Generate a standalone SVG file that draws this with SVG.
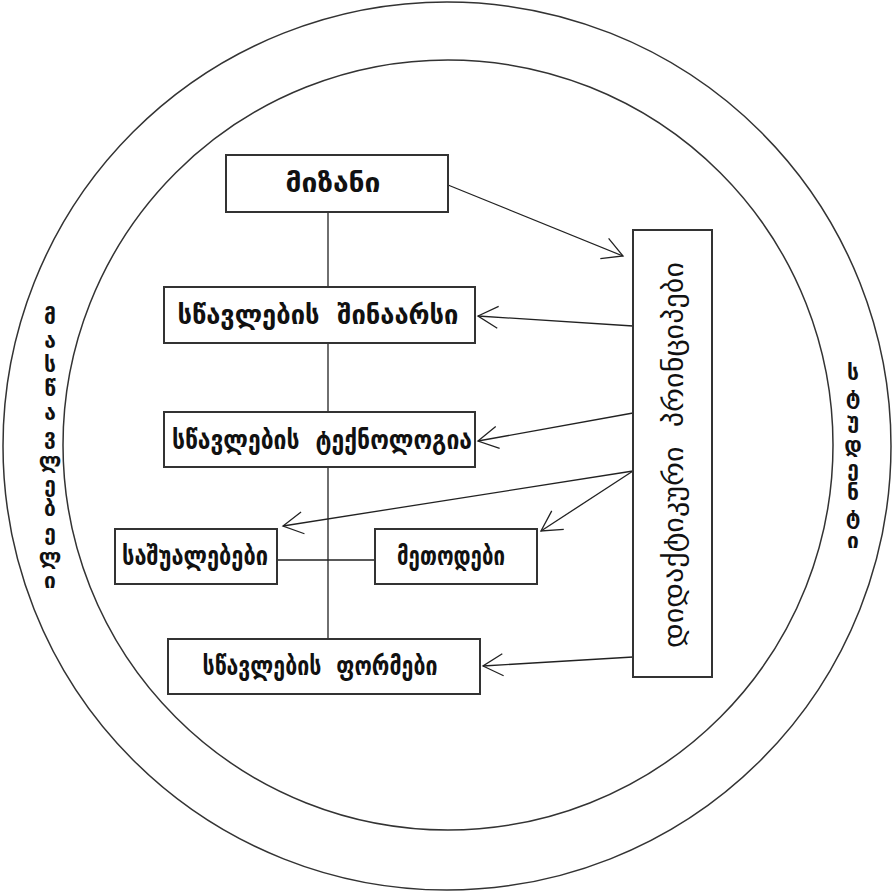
<svg xmlns="http://www.w3.org/2000/svg" width="894" height="893" viewBox="0 0 894 893">
<style>
.box{fill:#fff;stroke:#333;stroke-width:2}
.ring{fill:none;stroke:#333;stroke-width:1.5}
.lbl{font-family:"DejaVu Sans",sans-serif;font-weight:bold;font-size:26px;fill:#111;text-anchor:middle;dominant-baseline:central}
.vlbl{font-family:"DejaVu Sans",sans-serif;font-size:28px;fill:#111;text-anchor:middle;dominant-baseline:central}
.side{font-family:"DejaVu Sans",sans-serif;font-weight:bold;font-size:21px;fill:#111;text-anchor:middle}
.ln{stroke:#222;stroke-width:1.3;fill:none}
</style>
<defs>
<marker id="ah" markerUnits="userSpaceOnUse" viewBox="-1 -12 23 24" markerWidth="23" markerHeight="24" refX="20" refY="0" orient="auto">
<path d="M0,-11 L20,0 L0,11" fill="none" stroke="#222" stroke-width="1.3"/>
</marker>
</defs>
<rect width="894" height="893" fill="#fff"/>
<g id="rings">
<circle class="ring" cx="447" cy="446" r="444"/>
<circle class="ring" cx="448" cy="445" r="385"/>
</g>
<g id="connectors">
<line class="ln" x1="328" y1="212" x2="328" y2="639"/>
<line class="ln" x1="277" y1="560" x2="375" y2="560"/>
<line class="ln" x1="448" y1="185" x2="623" y2="256" marker-end="url(#ah)"/>
<line class="ln" x1="633" y1="326" x2="478" y2="316" marker-end="url(#ah)"/>
<line class="ln" x1="633" y1="413" x2="478" y2="441" marker-end="url(#ah)"/>
<line class="ln" x1="633" y1="471" x2="283" y2="526" marker-end="url(#ah)"/>
<line class="ln" x1="633" y1="471" x2="541" y2="531" marker-end="url(#ah)"/>
<line class="ln" x1="633" y1="657" x2="483" y2="666" marker-end="url(#ah)"/>
</g>
<g id="mizani">
<rect class="box" x="226" y="155" width="222" height="57"/>
<text class="lbl" x="333" y="183" textLength="95" lengthAdjust="spacingAndGlyphs">მიზანი</text>
</g>
<g id="shinaarsi">
<rect class="box" x="164" y="287" width="311" height="56"/>
<text class="lbl" x="318" y="315" xml:space="preserve" textLength="281" lengthAdjust="spacingAndGlyphs">სწავლების  შინაარსი</text>
</g>
<g id="teknologia">
<rect class="box" x="164" y="412" width="311" height="55"/>
<text class="lbl" x="322" y="440" xml:space="preserve" textLength="300" lengthAdjust="spacingAndGlyphs">სწავლების  ტექნოლოგია</text>
</g>
<g id="sashualebebi">
<rect class="box" x="115" y="529" width="162" height="55"/>
<text class="lbl" x="195" y="556" textLength="146" lengthAdjust="spacingAndGlyphs">საშუალებები</text>
</g>
<g id="metodebi">
<rect class="box" x="375" y="529" width="162" height="55"/>
<text class="lbl" x="451" y="556" textLength="108" lengthAdjust="spacingAndGlyphs">მეთოდები</text>
</g>
<g id="formebi">
<rect class="box" x="168" y="639" width="312" height="55"/>
<text class="lbl" x="320" y="666" xml:space="preserve" textLength="235" lengthAdjust="spacingAndGlyphs">სწავლების  ფორმები</text>
</g>
<g id="principebi">
<rect class="box" x="633" y="230" width="79" height="447"/>
<text class="vlbl" transform="translate(673,455) rotate(-90)" xml:space="preserve" textLength="386" lengthAdjust="spacingAndGlyphs">დიდაქტიკური  პრინციპები</text>
</g>
<g id="mastsavlebeli">
<text class="side" x="50" y="324">მ</text>
<text class="side" x="50" y="348">ა</text>
<text class="side" x="50" y="372">ს</text>
<text class="side" x="50" y="396">წ</text>
<text class="side" x="50" y="420">ა</text>
<text class="side" x="50" y="444">ვ</text>
<text class="side" x="50" y="468">ლ</text>
<text class="side" x="50" y="492">ე</text>
<text class="side" x="50" y="516">ბ</text>
<text class="side" x="50" y="540">ე</text>
<text class="side" x="50" y="564">ლ</text>
<text class="side" x="50" y="588">ი</text>
</g>
<g id="studenti">
<text class="side" x="853" y="380">ს</text>
<text class="side" x="853" y="404">ტ</text>
<text class="side" x="853" y="428">უ</text>
<text class="side" x="853" y="452">დ</text>
<text class="side" x="853" y="476">ე</text>
<text class="side" x="853" y="500">ნ</text>
<text class="side" x="853" y="524">ტ</text>
<text class="side" x="853" y="548">ი</text>
</g>
</svg>
